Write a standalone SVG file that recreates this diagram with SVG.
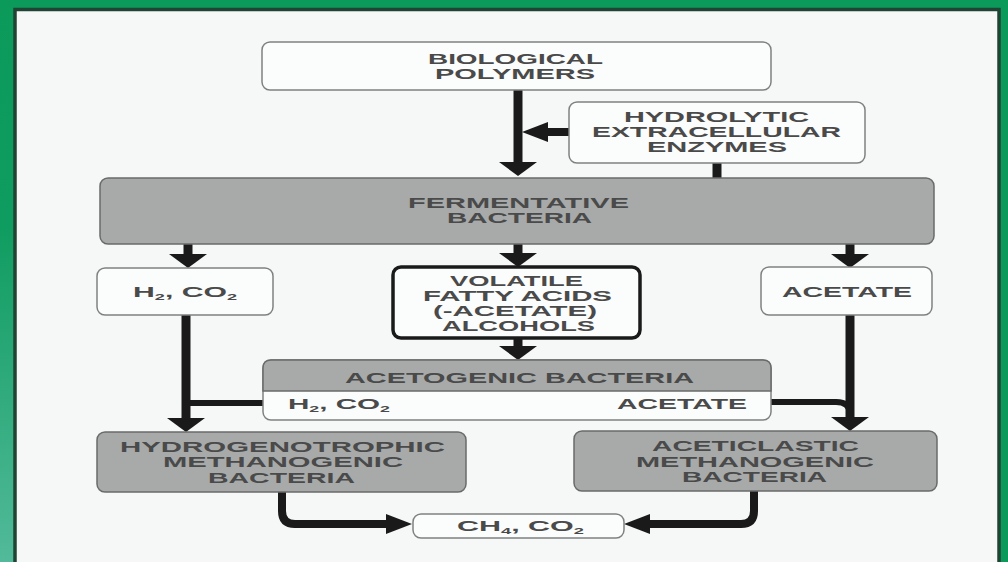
<svg xmlns="http://www.w3.org/2000/svg" width="1008" height="562" viewBox="0 0 1008 562">
<defs>
<linearGradient id="leftg" x1="0" y1="0" x2="0" y2="1">
<stop offset="0" stop-color="#0c9a5b"/>
<stop offset="0.4" stop-color="#0f9c60"/>
<stop offset="1" stop-color="#52ba9a"/>
</linearGradient>
<marker id="hv" markerUnits="userSpaceOnUse" viewBox="0 0 14 38" markerWidth="14" markerHeight="38" refX="0" refY="19" orient="auto">
<path d="M0,0 L14,19 L0,38 Z" fill="#1a1a1a"/>
</marker>
<marker id="hh" markerUnits="userSpaceOnUse" viewBox="0 0 26 20" markerWidth="26" markerHeight="20" refX="0" refY="10" orient="auto">
<path d="M0,0 L26,10 L0,20 Z" fill="#1a1a1a"/>
</marker>
</defs>
<style>
.wbox{fill:#fbfcfc;stroke:#808080;stroke-width:1.5}
.gbox{fill:#a8aaaa;stroke:#6a6a6a;stroke-width:1.5}
.tbox{fill:#fbfcfc;stroke:#1a1a1a;stroke-width:3.5}
text{font-family:"Liberation Sans",Arial,sans-serif;font-weight:bold;font-size:15px;fill:#4a4a4a}
.sub{font-size:9px}
.v{fill:none;stroke:#1a1a1a;stroke-width:9;marker-end:url(#hv)}
.h{fill:none;stroke:#1a1a1a;stroke-width:8;marker-end:url(#hh)}
.j{fill:none;stroke:#1a1a1a;stroke-width:6}
.s{fill:none;stroke:#1a1a1a;stroke-width:9}
</style>
<rect x="0" y="0" width="1008" height="562" fill="#0c9a5b"/>
<rect x="0" y="0" width="14" height="562" fill="url(#leftg)"/>
<rect x="15" y="9.5" width="984" height="560" fill="#f6f8f8" stroke="#1f4433" stroke-width="3.5"/>

<g id="connectors">
<path class="v" d="M518,90 V162"/>
<path class="h" d="M569,132 H548"/>
<path class="s" d="M717,163 V178"/>
<path class="v" d="M188,244 V254"/>
<path class="v" d="M518,244 V253"/>
<path class="v" d="M850,244 V254"/>
<path class="v" d="M518,339 V346"/>
<path class="v" d="M186,315 V418"/>
<path class="j" d="M263,403 H186"/>
<path class="v" d="M850,315 V417"/>
<path class="j" d="M771,402 H836 Q850,402 850,414"/>
<path class="h" d="M282,492 V511 Q282,524 295,524 H386"/>
<path class="h" d="M754,491 V511 Q754,524 741,524 H650"/>
</g>

<g id="biological-polymers">
<rect class="wbox" x="262" y="42" width="509" height="48" rx="8"/>
<text x="428" y="64" textLength="175" lengthAdjust="spacingAndGlyphs">BIOLOGICAL</text>
<text x="435" y="79" textLength="160" lengthAdjust="spacingAndGlyphs">POLYMERS</text>
</g>

<g id="hydrolytic-enzymes">
<rect class="wbox" x="569" y="102" width="296" height="61" rx="8"/>
<text x="624" y="122" textLength="185" lengthAdjust="spacingAndGlyphs">HYDROLYTIC</text>
<text x="592" y="137" textLength="249" lengthAdjust="spacingAndGlyphs">EXTRACELLULAR</text>
<text x="647" y="152" textLength="140" lengthAdjust="spacingAndGlyphs">ENZYMES</text>
</g>

<g id="fermentative-bacteria">
<rect class="gbox" x="100" y="178" width="834" height="66" rx="8"/>
<text x="408" y="208" textLength="221" lengthAdjust="spacingAndGlyphs">FERMENTATIVE</text>
<text x="447" y="223" textLength="145" lengthAdjust="spacingAndGlyphs">BACTERIA</text>
</g>

<g id="h2-co2">
<rect class="wbox" x="97" y="268" width="176" height="47" rx="8"/>
<text x="133" y="297" textLength="104" lengthAdjust="spacingAndGlyphs">H<tspan class="sub" dy="3">2</tspan><tspan dy="-3">, CO</tspan><tspan class="sub" dy="3">2</tspan></text>
</g>

<g id="volatile-fatty-acids">
<rect class="tbox" x="393" y="267" width="247" height="71" rx="8"/>
<text x="450" y="286" textLength="133" lengthAdjust="spacingAndGlyphs">VOLATILE</text>
<text x="423" y="301" textLength="189" lengthAdjust="spacingAndGlyphs">FATTY ACIDS</text>
<text x="433" y="316" textLength="164" lengthAdjust="spacingAndGlyphs">(-ACETATE)</text>
<text x="442" y="331" textLength="153" lengthAdjust="spacingAndGlyphs">ALCOHOLS</text>
</g>

<g id="acetate">
<rect class="wbox" x="761" y="267" width="171" height="48" rx="8"/>
<text x="782" y="297" textLength="130" lengthAdjust="spacingAndGlyphs">ACETATE</text>
</g>

<g id="acetogenic-bacteria">
<rect class="wbox" x="263" y="360" width="508" height="60" rx="8"/>
<path class="gbox" d="M263,391 V368 Q263,360 271,360 H763 Q771,360 771,368 V391 Z"/>
<text x="345" y="383" textLength="349" lengthAdjust="spacingAndGlyphs">ACETOGENIC BACTERIA</text>
<text x="288" y="409" textLength="102" lengthAdjust="spacingAndGlyphs">H<tspan class="sub" dy="3">2</tspan><tspan dy="-3">, CO</tspan><tspan class="sub" dy="3">2</tspan></text>
<text x="617" y="409" textLength="130" lengthAdjust="spacingAndGlyphs">ACETATE</text>
</g>

<g id="hydrogenotrophic">
<rect class="gbox" x="97" y="432" width="369" height="60" rx="8"/>
<text x="120" y="452" textLength="325" lengthAdjust="spacingAndGlyphs">HYDROGENOTROPHIC</text>
<text x="163" y="467" textLength="240" lengthAdjust="spacingAndGlyphs">METHANOGENIC</text>
<text x="208" y="483" textLength="147" lengthAdjust="spacingAndGlyphs">BACTERIA</text>
</g>

<g id="aceticlastic">
<rect class="gbox" x="574" y="431" width="363" height="60" rx="8"/>
<text x="652" y="451" textLength="207" lengthAdjust="spacingAndGlyphs">ACETICLASTIC</text>
<text x="636" y="467" textLength="238" lengthAdjust="spacingAndGlyphs">METHANOGENIC</text>
<text x="682" y="482" textLength="145" lengthAdjust="spacingAndGlyphs">BACTERIA</text>
</g>

<g id="ch4-co2">
<rect class="wbox" x="413" y="514" width="211" height="24" rx="8"/>
<text x="457" y="531" textLength="127" lengthAdjust="spacingAndGlyphs">CH<tspan class="sub" dy="3">4</tspan><tspan dy="-3">, CO</tspan><tspan class="sub" dy="3">2</tspan></text>
</g>
</svg>
